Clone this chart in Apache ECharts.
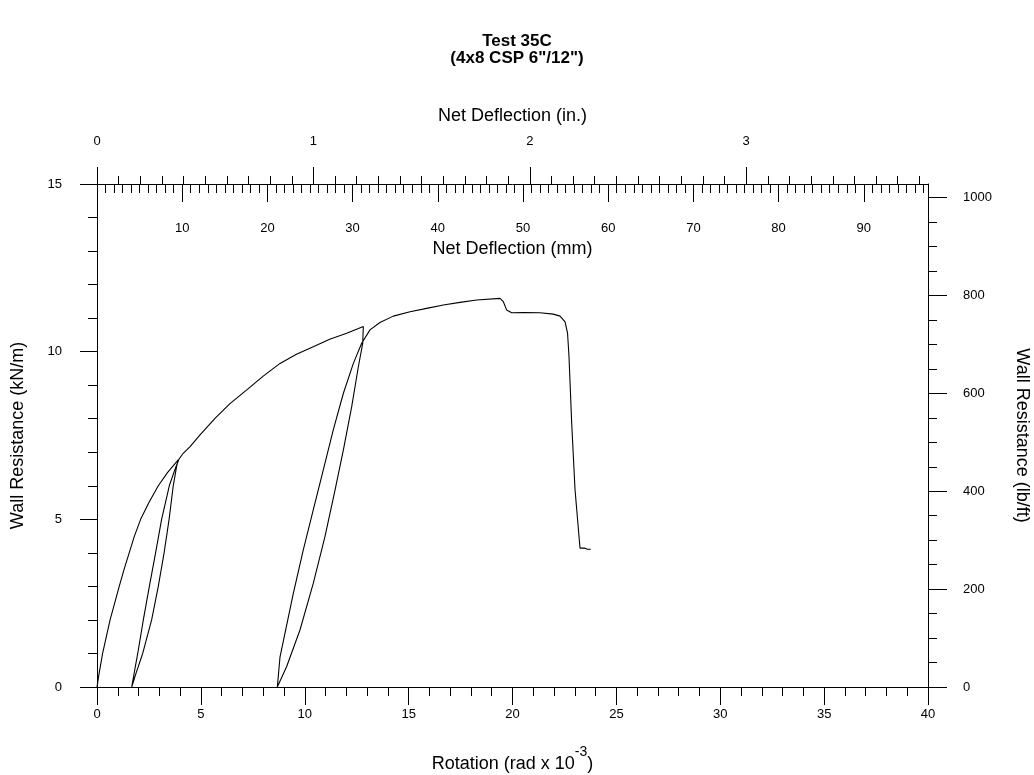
<!DOCTYPE html>
<html>
<head>
<meta charset="utf-8">
<script src="https://cdn.jsdelivr.net/npm/echarts@6/dist/echarts.min.js"></script>
<style>
html,body{margin:0;padding:0;background:#fff;}
#chart{width:1034px;height:775px;}
</style>
</head>
<body>
<div id="chart"></div>
<script>
// ---- data (rotation in rad x 10^-3, wall resistance in kN/m) ----
const rotation = [
  0, 0.10, 0.27, 0.45, 0.63, 0.85, 1.07, 1.30, 1.55, 1.80, 2.10, 2.50, 2.95, 3.40, 3.91,
  3.83, 3.67, 3.47, 3.23, 2.95, 2.63, 2.20, 1.90, 1.67,
  1.96, 2.23, 2.52, 2.82, 3.11, 3.48, 3.80, 3.95,
  4.15, 4.48, 4.96, 5.68, 6.40, 7.21, 8.00, 8.81, 9.60, 10.41, 11.20, 12.02, 12.82,
  12.79, 12.58, 12.26, 11.86, 11.46, 10.97, 10.41, 9.77, 9.13, 8.68,
  8.81, 9.45, 9.93, 10.41, 10.89, 11.37, 11.86, 12.34, 12.74, 13.14, 13.62, 14.26, 15.07,
  15.87, 16.67, 17.47, 18.28, 19.40, 19.56, 19.72, 19.96, 20.52, 21.32, 21.96, 22.29,
  22.53, 22.65, 22.72, 22.85, 23.01, 23.25, 23.33, 23.49, 23.60, 23.77
];
const resistance = [
  0, 0.40, 1.00, 1.50, 2.00, 2.50, 3.00, 3.50, 4.00, 4.50, 5.00, 5.50, 6.00, 6.40, 6.77,
  6.57, 6.00, 5.00, 4.00, 3.00, 2.00, 1.00, 0.45, 0,
  1.00, 2.00, 3.00, 4.00, 5.00, 6.00, 6.57, 6.80,
  6.97, 7.17, 7.52, 8.01, 8.45, 8.86, 9.27, 9.65, 9.92, 10.15, 10.37, 10.55, 10.75,
  10.25, 9.55, 8.36, 7.07, 5.88, 4.48, 3.09, 1.70, 0.61, 0,
  0.90, 2.79, 4.09, 5.28, 6.47, 7.66, 8.76, 9.65, 10.25, 10.65, 10.87, 11.06, 11.19,
  11.29, 11.39, 11.47, 11.54, 11.59, 11.49, 11.24, 11.16, 11.17, 11.16, 11.12, 11.06,
  10.89, 10.55, 9.85, 7.86, 5.88, 4.14, 4.17, 4.14, 4.11, 4.11
];

// ---- axis tick labels ----
const rotationTicks = [0, 5, 10, 15, 20, 25, 30, 35, 40];
const kNTicks = [0, 5, 10, 15];
const lbftTicks = [0, 200, 400, 600, 800, 1000];
const inchTicks = [0, 1, 2, 3];
const mmTicks = [10, 20, 30, 40, 50, 60, 70, 80, 90];

// ---- unit conversions ----
const ROT_MAX = 40;
const KN_MAX = 15;
const WALL_HEIGHT_MM = 2438.4;          // 8 ft
const MM_MAX = ROT_MAX * WALL_HEIGHT_MM / 1000;
const IN_MAX = MM_MAX / 25.4;
const LBFT_PER_KNM = 68.5218;
const LBFT_MAX = KN_MAX * LBFT_PER_KNM;

const lbftMinor = [];
for (let v = 50; v < 1000; v += 50) if (v % 200 !== 0) lbftMinor.push(v);
const inchMinor = [];
for (let k = 1; k <= 38; k++) if (k % 10 !== 0) inchMinor.push(k / 10);
const mmMinor = [];
for (let k = 1; k <= 97; k++) if (k % 10 !== 0) mmMinor.push(k);

const FONT = 'Liberation Sans, Arial, sans-serif';
const BLACK = '#000';
const plain = (v) => String(v);
const lbl = { color: BLACK, fontFamily: FONT, fontSize: 13, formatter: plain };
const nameStyle = { color: BLACK, fontFamily: FONT, fontSize: 18 };
const G = { left: 97, right: 106, top: 184, bottom: 88, containLabel: false, outerBoundsMode: 'none' };

const chart = echarts.init(document.getElementById('chart'), null, { renderer: 'canvas' });

const hiddenY = (gi) => ({ gridIndex: gi, type: 'value', min: 0, max: KN_MAX, show: false });

chart.setOption({
  animation: false,
  backgroundColor: '#fff',
  title: {
    text: 'Test 35C\n(4x8 CSP 6"/12")',
    left: 'center',
    top: 28,
    textStyle: { fontFamily: FONT, fontSize: 17, fontWeight: 'bold', color: BLACK, lineHeight: 17 }
  },
  grid: [G, G, G, G, G],
  xAxis: [
    {
      gridIndex: 0, type: 'value', position: 'bottom', min: 0, max: ROT_MAX, interval: 5,
      axisLine: { onZero: false, lineStyle: { color: BLACK, width: 1 } },
      axisTick: { length: 18, lineStyle: { color: BLACK } },
      minorTick: { show: true, splitNumber: 5, length: 9, lineStyle: { color: BLACK } },
      axisLabel: Object.assign({ margin: 21, customValues: rotationTicks }, lbl),
      splitLine: { show: false },
      name: '{a|Rotation (rad x 10}{s|-3}{a|)}',
      nameLocation: 'middle', nameGap: 58, nameMoveOverlap: false,
      nameTextStyle: {
        rich: {
          a: { fontFamily: FONT, fontSize: 18, color: BLACK, verticalAlign: 'bottom', lineHeight: 28 },
          s: { fontFamily: FONT, fontSize: 14, color: BLACK, verticalAlign: 'top', lineHeight: 28 }
        }
      }
    },
    {
      gridIndex: 1, type: 'value', position: 'top', min: 0, max: IN_MAX,
      axisLine: { onZero: false, lineStyle: { color: BLACK, width: 1 } },
      axisTick: { length: 17, customValues: inchTicks, lineStyle: { color: BLACK } },
      axisLabel: Object.assign({ margin: 36, customValues: inchTicks }, lbl),
      splitLine: { show: false },
      name: 'Net Deflection (in.)', nameLocation: 'middle', nameGap: 59, nameMoveOverlap: false,
      nameTextStyle: nameStyle
    },
    {
      gridIndex: 2, type: 'value', position: 'top', min: 0, max: IN_MAX,
      axisLine: { show: false, onZero: false },
      axisTick: { length: 8, customValues: inchMinor, lineStyle: { color: BLACK } },
      axisLabel: { show: false },
      splitLine: { show: false }
    },
    {
      gridIndex: 3, type: 'value', position: 'top', min: 0, max: MM_MAX,
      axisLine: { show: false, onZero: false },
      axisTick: { inside: true, length: 18, customValues: mmTicks, lineStyle: { color: BLACK } },
      axisLabel: Object.assign({ inside: true, margin: 38, customValues: mmTicks }, lbl),
      splitLine: { show: false }
    },
    {
      gridIndex: 4, type: 'value', position: 'top', min: 0, max: MM_MAX,
      axisLine: { show: false, onZero: false },
      axisTick: { inside: true, length: 9, customValues: mmMinor, lineStyle: { color: BLACK } },
      axisLabel: { show: false },
      splitLine: { show: false },
      name: 'Net Deflection (mm)', nameLocation: 'middle', nameGap: -74, nameMoveOverlap: false,
      nameTextStyle: nameStyle
    }
  ],
  yAxis: [
    {
      gridIndex: 0, type: 'value', position: 'left', min: 0, max: KN_MAX, interval: 5,
      axisLine: { onZero: false, lineStyle: { color: BLACK, width: 1 } },
      axisTick: { length: 17, lineStyle: { color: BLACK } },
      minorTick: { show: true, splitNumber: 5, length: 9, lineStyle: { color: BLACK } },
      axisLabel: Object.assign({ margin: 35, customValues: kNTicks }, lbl),
      splitLine: { show: false },
      name: 'Wall Resistance (kN/m)', nameLocation: 'middle', nameGap: 70, nameMoveOverlap: false,
      nameTextStyle: nameStyle
    },
    {
      gridIndex: 0, type: 'value', position: 'right', min: 0, max: LBFT_MAX,
      axisLine: { onZero: false, lineStyle: { color: BLACK, width: 1 } },
      axisTick: { length: 19, customValues: lbftTicks, lineStyle: { color: BLACK } },
      axisLabel: Object.assign({ margin: 35, customValues: lbftTicks }, lbl),
      splitLine: { show: false },
      name: 'Wall Resistance (lb/ft)', nameLocation: 'middle', nameGap: 85, nameRotate: -90,
      nameMoveOverlap: false, nameTextStyle: nameStyle
    },
    {
      gridIndex: 1, type: 'value', position: 'right', min: 0, max: LBFT_MAX,
      axisLine: { show: false, onZero: false },
      axisTick: { length: 9, customValues: lbftMinor, lineStyle: { color: BLACK } },
      axisLabel: { show: false },
      splitLine: { show: false }
    },
    hiddenY(2), hiddenY(3), hiddenY(4)
  ],
  series: [{
    type: 'line',
    xAxisIndex: 0, yAxisIndex: 0,
    data: rotation.map((r, i) => [r, resistance[i]]),
    showSymbol: false,
    symbol: 'none',
    smooth: false,
    lineStyle: { color: BLACK, width: 1.1 },
    silent: true
  }]
});
</script>
</body>
</html>
